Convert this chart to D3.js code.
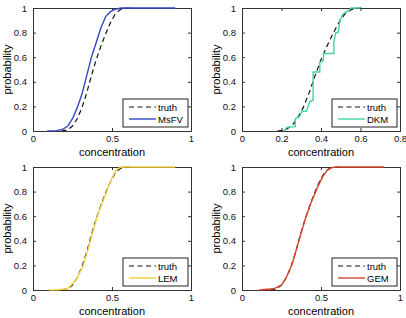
<!DOCTYPE html>
<html>
<head>
<meta charset="utf-8">
<script src="https://cdn.jsdelivr.net/npm/d3@7"></script>
<style>
    body { margin: 0; background: #fff; }
    text { font-family: "Liberation Sans", Arial, sans-serif; }
</style>
</head>
<body>
<div id="chart"></div>
<script>
// reference CDF (dashed black in every panel)
const truthX = [0.18, 0.22, 0.25, 0.28, 0.31, 0.34, 0.37, 0.40, 0.43, 0.46, 0.49, 0.52, 0.55, 0.58, 0.61];
const truthP = [0, 0.01, 0.04, 0.10, 0.19, 0.31, 0.45, 0.58, 0.69, 0.79, 0.88, 0.95, 0.985, 0.997, 1.0];

const msfvX = [0.09, 0.15, 0.19, 0.22, 0.25, 0.28, 0.31, 0.34, 0.37, 0.40, 0.43, 0.46, 0.49, 0.52, 0.56, 0.90];
const msfvP = [0, 0.003, 0.015, 0.04, 0.10, 0.19, 0.30, 0.45, 0.60, 0.72, 0.84, 0.93, 0.97, 0.99, 1.0, 1.0];

const dkmX = [0.211, 0.228, 0.27, 0.27, 0.292, 0.304, 0.326, 0.343, 0.36, 0.36, 0.394, 0.394, 0.411, 0.414, 0.465, 0.465, 0.475, 0.487, 0.496, 0.51, 0.54, 0.553, 0.60];
const dkmP = [0, 0.03, 0.035, 0.10, 0.12, 0.16, 0.16, 0.24, 0.25, 0.48, 0.48, 0.56, 0.57, 0.63, 0.63, 0.72, 0.80, 0.80, 0.90, 0.95, 0.98, 1.0, 1.0];

const lemX = [0.105, 0.16, 0.22, 0.275, 0.316, 0.348, 0.38, 0.41, 0.454, 0.496, 0.528, 0.56, 0.90];
const lemP = [0, 0.002, 0.01, 0.087, 0.195, 0.33, 0.48, 0.615, 0.76, 0.90, 0.98, 1.0, 1.0];

const gemX = [0.106, 0.20, 0.25, 0.28, 0.317, 0.36, 0.40, 0.44, 0.48, 0.51, 0.54, 0.57, 0.60, 0.90];
const gemP = [0, 0.01, 0.04, 0.10, 0.21, 0.40, 0.575, 0.72, 0.84, 0.92, 0.975, 0.995, 1.0, 1.0];

const yTicks = [0, 0.2, 0.4, 0.6, 0.8, 1];

const panels = [
    { name: "MsFV", x: msfvX, p: msfvP, color: "#3347c8", xMax: 1, xTicks: [0, 0.5, 1], left: 33, top: 8 },
    { name: "DKM", x: dkmX, p: dkmP, color: "#3ed6a4", xMax: 0.8, xTicks: [0, 0.2, 0.4, 0.6, 0.8], left: 242, top: 8 },
    { name: "LEM", x: lemX, p: lemP, color: "#f3cf3c", xMax: 1, xTicks: [0, 0.5, 1], left: 33, top: 167 },
    { name: "GEM", x: gemX, p: gemP, color: "#d9442c", xMax: 1, xTicks: [0, 0.5, 1], left: 242, top: 167 }
];

const W = 158, H = 123;

const svg = d3.select("#chart").append("svg")
    .attr("width", 406)
    .attr("height", 318);

const fmt = d => String(d);

panels.forEach(pn => {
    const g = svg.append("g").attr("transform", `translate(${pn.left},${pn.top})`);
    const x = d3.scaleLinear().domain([0, pn.xMax]).range([0, W]);
    const y = d3.scaleLinear().domain([0, 1]).range([H, 0]);

    // axes with inward ticks, mirrored on top / right
    g.append("g").attr("transform", `translate(0,${H})`)
        .call(d3.axisBottom(x).tickValues(pn.xTicks).tickSize(-3).tickPadding(4).tickFormat(fmt));
    g.append("g")
        .call(d3.axisTop(x).tickValues(pn.xTicks).tickSize(-3).tickFormat(""));
    g.append("g")
        .call(d3.axisLeft(y).tickValues(yTicks).tickSize(-3).tickPadding(6).tickFormat(fmt));
    g.append("g").attr("transform", `translate(${W},0)`)
        .call(d3.axisRight(y).tickValues(yTicks).tickSize(-3).tickFormat(""));

    g.selectAll(".domain").attr("stroke", "#333");
    g.selectAll(".tick line").attr("stroke", "#333");
    g.selectAll(".tick text").style("font-size", "9.5px").attr("fill", "#111");

    const line = d3.line().x(d => x(d[0])).y(d => y(d[1]));

    g.append("path")
        .datum(d3.zip(truthX, truthP))
        .attr("d", line)
        .attr("fill", "none")
        .attr("stroke", "#111")
        .attr("stroke-width", 1.2)
        .attr("stroke-dasharray", "5,3.5");

    g.append("path")
        .datum(d3.zip(pn.x, pn.p))
        .attr("d", line)
        .attr("fill", "none")
        .attr("stroke", pn.color)
        .attr("stroke-width", 1.4);

    // legend
    const lg = g.append("g").attr("transform", `translate(${W - 68},${H - 32})`);
    lg.append("rect")
        .attr("width", 65).attr("height", 28)
        .attr("fill", "#fff").attr("stroke", "#222").attr("stroke-width", 1);
    lg.append("line").attr("x1", 6).attr("x2", 33).attr("y1", 8).attr("y2", 8)
        .attr("stroke", "#111").attr("stroke-width", 1.2).attr("stroke-dasharray", "5,3.5");
    lg.append("line").attr("x1", 6).attr("x2", 33).attr("y1", 20).attr("y2", 20)
        .attr("stroke", pn.color).attr("stroke-width", 1.4);
    lg.append("text").attr("x", 35).attr("y", 11.5).style("font-size", "9.5px").text("truth");
    lg.append("text").attr("x", 35).attr("y", 23.5).style("font-size", "9.5px").text(pn.name);

    g.append("text")
        .attr("x", W / 2).attr("y", H + 25)
        .attr("text-anchor", "middle")
        .style("font-size", "11px")
        .text("concentration");

    g.append("text")
        .attr("transform", `translate(-22,${H / 2}) rotate(-90)`)
        .attr("text-anchor", "middle")
        .style("font-size", "11px")
        .text("probability");
});
</script>
</body>
</html>
